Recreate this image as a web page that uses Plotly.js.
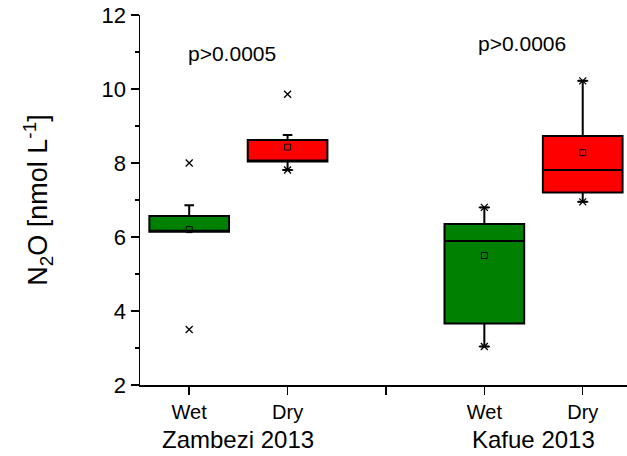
<!DOCTYPE html>
<html>
<head>
<meta charset="utf-8">
<script src="https://cdn.plot.ly/plotly-3.0.1.min.js"></script>
<style>
  html, body { margin: 0; padding: 0; background: #fff; overflow: hidden; }
  #chart { width: 627px; height: 456px; }
</style>
</head>
<body>
<div id="chart"></div>
<script>
// N2O concentrations by river and season (box statistics, nmol/L)
const positions = [1, 2, 4, 5];
const seasons = ['Wet', 'Dry', 'Wet', 'Dry'];
const boxColors = ['rgb(0,128,0)', 'rgb(255,0,0)', 'rgb(0,128,0)', 'rgb(255,0,0)'];
const q1 = [6.14, 8.04, 3.66, 7.20];
const median = [6.14, 8.04, 5.89, 7.81];
const q3 = [6.57, 8.62, 6.35, 8.73];
const lowerWhisker = [6.14, 7.81, 3.04, 6.95];
const upperWhisker = [6.86, 8.76, 6.80, 10.22];
const means = [6.20, 8.43, 5.50, 8.28];
// 1st / 99th percentile (crosses)
const pctLow = [3.50, 7.81, 3.04, 6.95];
const pctHigh = [8.00, 9.86, 6.80, 10.22];
// minimum / maximum (dashes), only where they fall on a whisker end
const minDash = [null, 7.81, 3.04, 6.95];
const maxDash = [null, null, 6.80, 10.22];

const tickVals = [1, 2, 3, 4, 5];
const tickLabels = ['Wet', 'Dry', ' ', 'Wet', 'Dry'];
const rivers = ['Zambezi 2013', 'Kafue 2013'];
const riverCenters = [1.5, 4.5];
const pLabels = ['p>0.0005', 'p>0.0006'];
const pX = [1.43, 4.38];
const pY = [10.97, 11.24];

const traces = [];
positions.forEach((pos, i) => {
  traces.push({
    type: 'box',
    x: [pos],
    q1: [q1[i]],
    median: [median[i]],
    q3: [q3[i]],
    lowerfence: [lowerWhisker[i]],
    upperfence: [upperWhisker[i]],
    width: 0.81,
    whiskerwidth: 0.12,
    fillcolor: boxColors[i],
    line: { color: '#000', width: 2 },
    boxpoints: false,
    showlegend: false,
    name: seasons[i],
    hoverinfo: 'skip'
  });
});

// mean markers
traces.push({
  type: 'scatter', mode: 'markers',
  x: positions, y: means,
  marker: { symbol: 'square-open', size: 6, color: '#000', line: { width: 1 } },
  showlegend: false, hoverinfo: 'skip'
});

// percentile crosses
traces.push({
  type: 'scatter', mode: 'markers',
  x: positions.concat(positions), y: pctLow.concat(pctHigh),
  marker: { symbol: 'x-thin-open', size: 7, color: '#000', line: { width: 1.3, color: '#000' } },
  showlegend: false, hoverinfo: 'skip'
});
// min / max dashes
traces.push({
  type: 'scatter', mode: 'markers',
  x: positions.concat(positions), y: minDash.concat(maxDash),
  marker: { symbol: 'line-ew-open', size: 8, color: '#000', line: { width: 1.3, color: '#000' } },
  showlegend: false, hoverinfo: 'skip'
});

const font = 'Liberation Sans, Arial, sans-serif';
const annotations = [];
rivers.forEach((r, i) => {
  annotations.push({
    text: r, x: riverCenters[i], xref: 'x', y: -0.146, yref: 'paper',
    xanchor: 'center', yanchor: 'middle', showarrow: false,
    font: { family: font, size: 24, color: '#000' }
  });
});
pLabels.forEach((t, i) => {
  annotations.push({
    text: t, x: pX[i], y: pY[i], xref: 'x', yref: 'y',
    xanchor: 'center', yanchor: 'middle', showarrow: false,
    font: { family: font, size: 21, color: '#000' }
  });
});

const layout = {
  width: 627, height: 456,
  margin: { l: 140, r: 0, t: 15, b: 71 },
  paper_bgcolor: '#fff', plot_bgcolor: '#fff',
  font: { family: font, color: '#000' },
  xaxis: {
    range: [0.5, 5.45],
    tickmode: 'array', tickvals: tickVals, ticktext: tickLabels,
    ticks: 'outside', ticklen: 8, tickwidth: 1.5, tickcolor: '#000',
    showline: true, linecolor: '#000', linewidth: 1.5,
    showgrid: false, zeroline: false,
    tickfont: { family: font, size: 20, color: '#000' }
  },
  yaxis: {
    range: [2, 12], dtick: 2,
    ticks: 'outside', ticklen: 8, tickwidth: 1.5, tickcolor: '#000',
    minor: { dtick: 1, ticks: 'outside', ticklen: 4, tickwidth: 1.5, tickcolor: '#000', showgrid: false },
    showline: true, linecolor: '#000', linewidth: 1.5,
    showgrid: false, zeroline: false,
    tickfont: { family: font, size: 22, color: '#000' },
    title: { text: 'N<sub>2</sub>O [nmol L<sup>-1</sup>]', font: { family: font, size: 27, color: '#000' }, standoff: 46 }
  },
  annotations: annotations
};

Plotly.newPlot('chart', traces, layout, { displayModeBar: false, staticPlot: true });
</script>
</body>
</html>
